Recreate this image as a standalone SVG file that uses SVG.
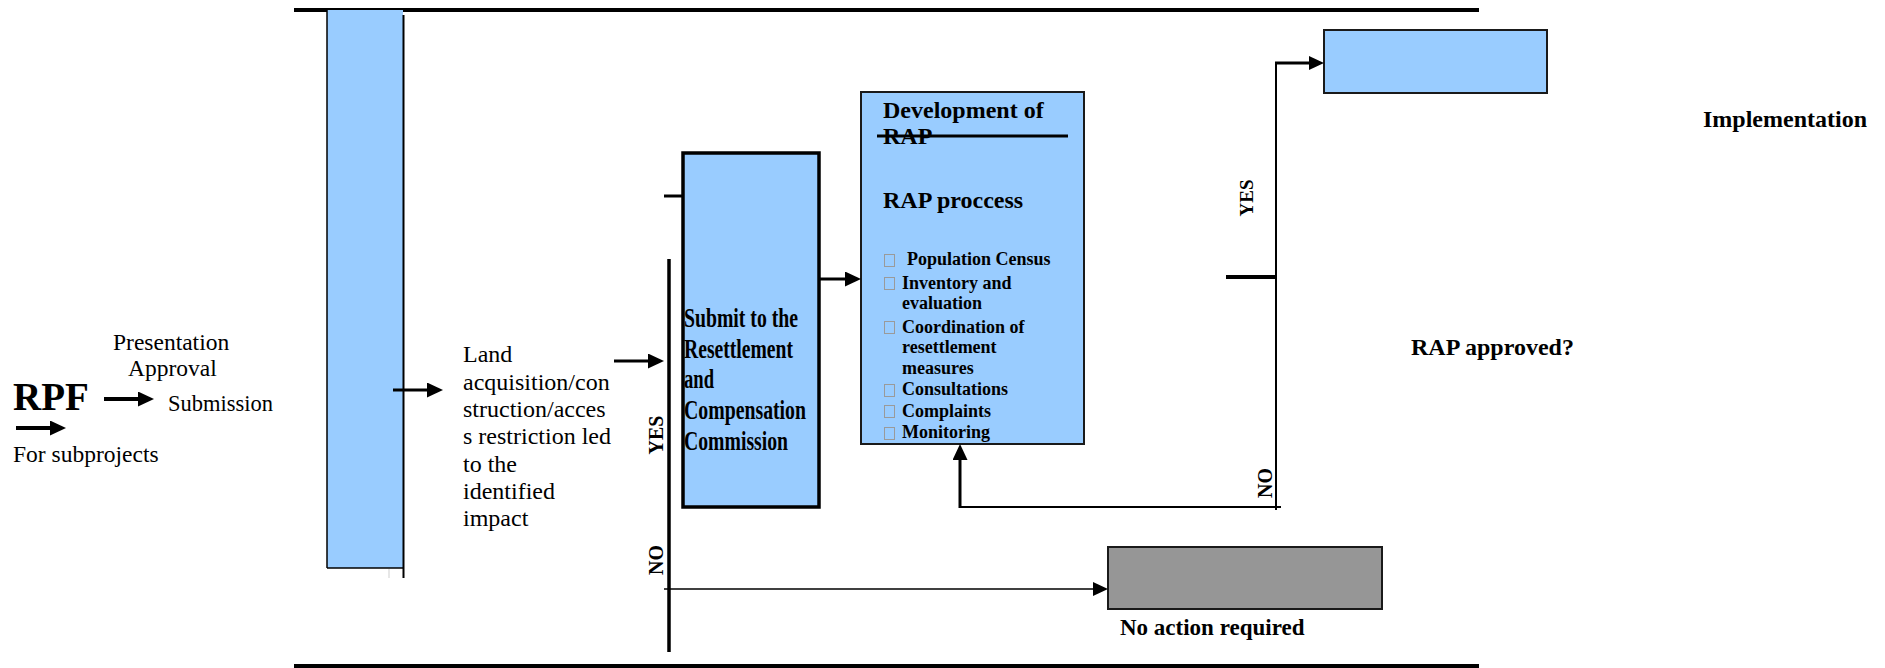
<svg xmlns="http://www.w3.org/2000/svg" width="1885" height="668" viewBox="0 0 1885 668">
<style>
.reg{font-family:"Liberation Serif","Times New Roman",serif;fill:#000}
.bold{font-family:"Liberation Serif","Times New Roman",serif;font-weight:bold;fill:#000}
.blue{fill:#99CCFF}
.ln{stroke:#000;fill:none}
.chk{fill:none;stroke:#9a9a9a;stroke-width:1}
</style>
<defs>
<marker id="ah" markerUnits="userSpaceOnUse" markerWidth="16" markerHeight="15" refX="0" refY="7.5" orient="auto">
<path d="M0,0 L16,7.5 L0,15 z" fill="#000"/>
</marker>
<marker id="ahs" markerUnits="userSpaceOnUse" markerWidth="15" markerHeight="14" refX="0" refY="7" orient="auto">
<path d="M0,0 L15,7 L0,14 z" fill="#000"/>
</marker>
</defs>
<rect width="1885" height="668" fill="#fff"/>

<g id="frame">
<line class="ln" x1="294" y1="10" x2="1479" y2="10" stroke-width="4"/>
<line class="ln" x1="294" y1="666" x2="1479" y2="666" stroke-width="4"/>
</g>

<g id="rpf">
<text class="bold" x="13" y="410" font-size="39">RPF</text>
<text class="reg" x="113" y="350" font-size="23.5">Presentation</text>
<text class="reg" x="128" y="376" font-size="23.5">Approval</text>
<text class="reg" x="168" y="411" font-size="22.5">Submission</text>
<text class="reg" x="13" y="462" font-size="23.5">For subprojects</text>
</g>

<g id="bar">
<rect class="blue" x="327" y="10" width="76" height="558"/>
<line class="ln" x1="327" y1="10" x2="327" y2="568" stroke-width="1.5"/>
<line class="ln" x1="327" y1="568" x2="403" y2="568" stroke-width="1.5"/>
<line class="ln" x1="403.5" y1="15" x2="403.5" y2="578" stroke-width="2"/>
<line x1="389" y1="569" x2="389" y2="578" stroke="#cfcfcf" stroke-width="1"/>
</g>

<g id="land">
<text class="reg" font-size="24">
<tspan x="463" y="362">Land</tspan>
<tspan x="463" y="390">acquisition/con</tspan>
<tspan x="463" y="417">struction/acces</tspan>
<tspan x="463" y="444">s restriction led</tspan>
<tspan x="463" y="472">to the</tspan>
<tspan x="463" y="499">identified</tspan>
<tspan x="463" y="526">impact</tspan>
</text>
</g>

<g id="submit">
<rect class="blue" x="683" y="153" width="136" height="354" stroke="#000" stroke-width="3.5"/>
<g class="bold" font-size="27">
<text x="684" y="327" textLength="114" lengthAdjust="spacingAndGlyphs">Submit to the</text>
<text x="684" y="358" textLength="109" lengthAdjust="spacingAndGlyphs">Resettlement</text>
<text x="684" y="388" textLength="30" lengthAdjust="spacingAndGlyphs">and</text>
<text x="684" y="419" textLength="122" lengthAdjust="spacingAndGlyphs">Compensation</text>
<text x="684" y="450" textLength="104" lengthAdjust="spacingAndGlyphs">Commission</text>
</g>
</g>

<g id="rap">
<rect class="blue" x="861" y="92" width="223" height="352" stroke="#1a1a1a" stroke-width="2"/>
<text class="bold" x="883" y="118" font-size="24">Development of</text>
<text class="bold" x="883" y="144" font-size="24">RAP</text>
<line class="ln" x1="877" y1="136" x2="1068" y2="136" stroke-width="3"/>
<text class="bold" x="883" y="208" font-size="24">RAP proccess</text>
<rect class="chk" x="884.5" y="254.5" width="10" height="12"/>
<rect class="chk" x="884.5" y="277.5" width="10" height="12"/>
<rect class="chk" x="884.5" y="321.5" width="10" height="12"/>
<rect class="chk" x="884.5" y="384.5" width="10" height="12"/>
<rect class="chk" x="884.5" y="405.5" width="10" height="12"/>
<rect class="chk" x="884.5" y="427.5" width="10" height="12"/>
<g class="bold" font-size="18">
<text x="907" y="265">Population Census</text>
<text x="902" y="289">Inventory and</text>
<text x="902" y="309">evaluation</text>
<text x="902" y="333">Coordination of</text>
<text x="902" y="353">resettlement</text>
<text x="902" y="374">measures</text>
<text x="902" y="395">Consultations</text>
<text x="902" y="417">Complaints</text>
<text x="902" y="438">Monitoring</text>
</g>
</g>

<g id="implementation">
<rect class="blue" x="1324" y="30" width="223" height="63" stroke="#1a1a1a" stroke-width="2"/>
<text class="bold" x="1703" y="127" font-size="24">Implementation</text>
</g>

<g id="approved">
<text class="bold" x="1411" y="355" font-size="24">RAP approved?</text>
</g>

<g id="noaction">
<rect x="1108" y="547" width="274" height="62" fill="#969696" stroke="#1a1a1a" stroke-width="2"/>
<text class="bold" x="1120" y="635" font-size="23">No action required</text>
</g>

<g id="connectors">
<line class="ln" x1="104" y1="399" x2="138" y2="399" stroke-width="4" marker-end="url(#ah)"/>
<line class="ln" x1="16" y1="428" x2="50" y2="428" stroke-width="4" marker-end="url(#ah)"/>
<line class="ln" x1="393" y1="390" x2="427" y2="390" stroke-width="3" marker-end="url(#ah)"/>
<line class="ln" x1="614" y1="361" x2="648" y2="361" stroke-width="3" marker-end="url(#ah)"/>
<line class="ln" x1="664" y1="196" x2="683" y2="196" stroke-width="3"/>
<line class="ln" x1="669" y1="259" x2="669" y2="652" stroke-width="3.5"/>
<line class="ln" x1="819" y1="279" x2="845" y2="279" stroke-width="3" marker-end="url(#ah)"/>
<line class="ln" x1="664" y1="589" x2="1093" y2="589" stroke-width="1.5" marker-end="url(#ahs)"/>
<polyline class="ln" points="1281,507 960,507" stroke-width="2"/>
<line class="ln" x1="960" y1="508" x2="960" y2="460" stroke-width="3" marker-end="url(#ah)"/>
<line class="ln" x1="1276" y1="62" x2="1276" y2="510" stroke-width="2"/>
<line class="ln" x1="1275" y1="63" x2="1309" y2="63" stroke-width="3" marker-end="url(#ahs)"/>
<line class="ln" x1="1226" y1="277" x2="1276" y2="277" stroke-width="4"/>
<text class="bold" font-size="20" transform="translate(663,435) rotate(-90)" text-anchor="middle">YES</text>
<text class="bold" font-size="20" transform="translate(663,560) rotate(-90)" text-anchor="middle">NO</text>
<text class="bold" font-size="19" transform="translate(1253,198) rotate(-90)" text-anchor="middle">YES</text>
<text class="bold" font-size="20" transform="translate(1272,483) rotate(-90)" text-anchor="middle">NO</text>
</g>
</svg>
